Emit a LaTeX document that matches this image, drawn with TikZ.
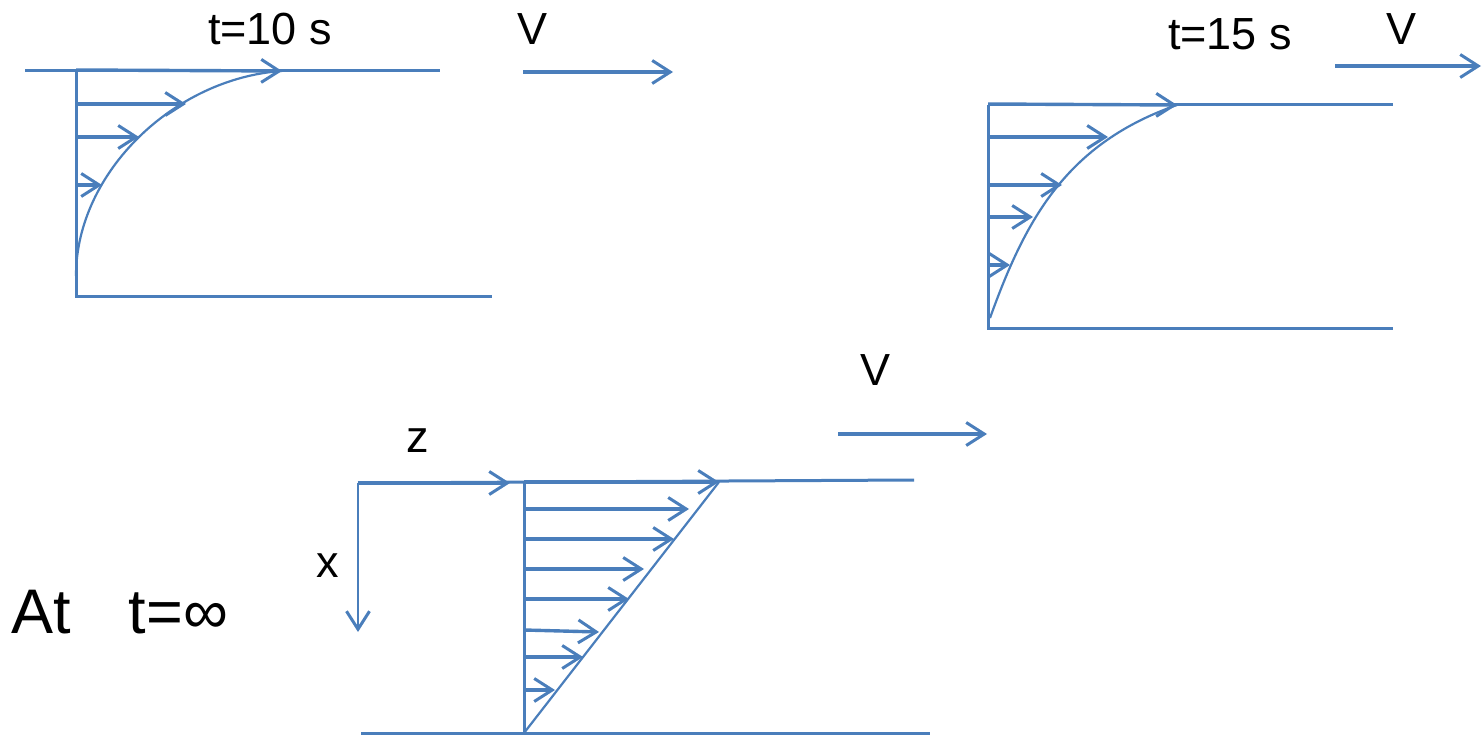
\documentclass[tikz,border=0pt]{standalone}
\usepackage{fontspec}
\setmainfont{Liberation Sans}
\usetikzlibrary{arrows.meta}
\definecolor{lb}{RGB}{74,126,187}
\begin{document}
\begin{tikzpicture}[x=1pt,y=-1pt,
  plate/.style={draw=lb,line width=3pt},
  prof/.style={draw=lb,line width=2.2pt},
  vec/.style={draw=lb,line width=3.4pt,-{Straight Barb[length=18pt,width=23pt,line width=3pt]}},
  lbl/.style={inner sep=0pt,anchor=base,text=black,font=\fontsize{45}{50}\selectfont},
  biglbl/.style={inner sep=0pt,anchor=base west,text=black,font=\fontsize{63}{70}\selectfont}]
\useasboundingbox (0,0) rectangle (1484,735);

% ---------------- Panel 1 : t = 10 s ----------------
\coordinate (p1tl) at (25,71);
\coordinate (p1tr) at (440,71);
\coordinate (p1w) at (76,71);
\coordinate (p1b) at (76,297);
\coordinate (p1br) at (492,297);
\draw[plate] (p1tl) -- (p1tr);
\draw[plate] (p1w) -- (p1b) -- (p1br);
\coordinate (p1c0) at (76,276);
\coordinate (p1c1) at (282,71);
\draw[prof] (p1c0) .. controls (76,172) and (175,78) .. (p1c1);
\draw[vec] (76,70) -- (p1c1);
\draw[vec] (76,104) -- (186,104);
\draw[vec] (76,137) -- (139,137);
\draw[vec] (76,185) -- (102,185);
\node[lbl] (t10) at (270,45) {t=10 s};
\node[lbl] (v1) at (533,45) {V};
\coordinate (v1a) at (523,72);
\coordinate (v1b) at (673,72);
\draw[vec] (v1a) -- (v1b);

% ---------------- Panel 2 : t = 15 s ----------------
\coordinate (p2w) at (988,105);
\coordinate (p2tr) at (1393,105);
\coordinate (p2b) at (988,329);
\coordinate (p2br) at (1393,329);
\draw[plate] (p2w) -- (p2tr);
\draw[plate] (p2w) -- (p2b) -- (p2br);
\coordinate (p2c0) at (990,318);
\coordinate (p2c1) at (1177,105);
\draw[prof] (p2c0) .. controls (1026,218) and (1067,143.5) .. (p2c1);
\draw[vec] (988,104) -- (p2c1);
\draw[vec] (988,137) -- (1108,137);
\draw[vec] (988,185) -- (1062,185);
\draw[vec] (988,217) -- (1033,217);
\draw[vec] (988,265) -- (1010,265);
\node[lbl] (t15) at (1230,50) {t=15 s};
\node[lbl] (v2) at (1401,45) {V};
\coordinate (v2a) at (1335,66);
\coordinate (v2b) at (1481,66);
\draw[vec] (v2a) -- (v2b);

% ---------------- Panel 3 : t = infinity ----------------
\coordinate (o) at (358,483);
\coordinate (p3tr) at (914,480);
\coordinate (p3w) at (524,483);
\coordinate (p3b) at (524,733);
\coordinate (p3bl) at (361,733);
\coordinate (p3br) at (930,733);
\coordinate (p3top) at (719,482);
\draw[plate] (o) -- (p3tr);
\draw[plate] (p3w) -- (p3b);
\draw[plate] (p3bl) -- (p3br);
\draw[prof] (p3b) -- (p3top);
\coordinate (zax) at (510,483);
\coordinate (xax) at (358,632);
\draw[vec] (o) -- (zax);
\draw[vec,line width=2.8pt] (o) -- (xax);
\draw[vec] (524,482) -- (p3top);
\draw[vec] (524,509) -- (689,509);
\draw[vec] (524,539) -- (674,539);
\draw[vec] (524,569) -- (644,569);
\draw[vec] (524,599) -- (629,599);
\draw[vec] (524,630) -- (599,632);
\draw[vec] (524,657) -- (583,657);
\draw[vec] (524,690) -- (555,690);
\node[lbl] (zl) at (418,452) {z};
\node[lbl] (xl) at (328,577) {x};
\node[lbl] (v3) at (875,385) {V};
\coordinate (v3a) at (838,434);
\coordinate (v3b) at (987,434);
\draw[vec] (v3a) -- (v3b);
\node[biglbl] (at) at (11,633) {At\hspace{58pt}t=∞};
\end{tikzpicture}
\end{document}
